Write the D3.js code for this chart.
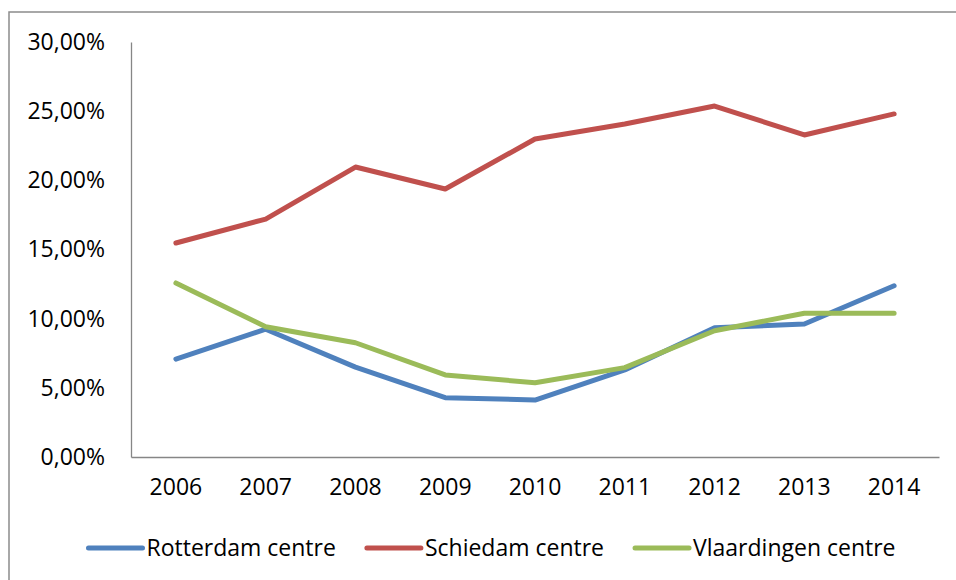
<!DOCTYPE html>
<html>
<head>
<meta charset="utf-8">
<script src="https://cdn.jsdelivr.net/npm/d3@7"></script>
<style>
  body { margin: 0; background: #fff; }
  svg { display: block; font-family: "Open Sans", "Noto Sans", sans-serif; }
</style>
</head>
<body>
<svg id="chart" width="956" height="580"></svg>
<script>
'use strict';
/*
 *	Data
 */
var years = ["2006", "2007", "2008", "2009", "2010", "2011", "2012", "2013", "2014"];
var seriesNames = ["Rotterdam centre", "Schiedam centre", "Vlaardingen centre"];
var seriesColors = ["#4F81BD", "#C0504D", "#9BBB59"];
var rotterdam = [7.08, 9.24, 6.5, 4.29, 4.12, 6.29, 9.35, 9.61, 12.38];
var schiedam = [15.47, 17.2, 20.96, 19.37, 22.99, 24.07, 25.37, 23.28, 24.8];
var vlaardingen = [12.58, 9.42, 8.26, 5.93, 5.37, 6.46, 9.13, 10.39, 10.39];
var yTicks = [0, 5, 10, 15, 20, 25, 30];

var allSeries = [rotterdam, schiedam, vlaardingen];

/*
 *	Layout
 */
var svg = d3.select("#chart");
var plotLeft = 131, plotRight = 939, plotTop = 42, plotBottom = 457;
var fontSize = 23;

// outer chart border (runs off the right/bottom of the picture)
svg.append("rect")
	.attr("x", 9).attr("y", 12)
	.attr("width", 1000).attr("height", 1000)
	.attr("fill", "none")
	.attr("stroke", "#8c8c8c")
	.attr("stroke-width", 1.5);

var x = d3.scaleBand().domain(years).range([plotLeft, plotRight]);
var y = d3.scaleLinear().domain([0, 30]).range([plotBottom, plotTop]);

function fmt(v) {
	return v.toFixed(2).replace(".", ",") + "%";
}

// y axis
var yAxis = svg.append("g")
	.attr("transform", "translate(" + plotLeft + ",0)")
	.call(d3.axisLeft(y).tickValues(yTicks).tickFormat(fmt).tickSize(0).tickPadding(26));
yAxis.attr("font-family", null).attr("font-size", fontSize);
yAxis.select(".domain").attr("stroke", "#868686").attr("stroke-width", 1.3);
yAxis.selectAll("text").attr("fill", "#000");

// x axis
var xAxis = svg.append("g")
	.attr("transform", "translate(0," + plotBottom + ")")
	.call(d3.axisBottom(x).tickSize(0).tickPadding(22));
xAxis.attr("font-family", null).attr("font-size", fontSize);
xAxis.select(".domain").attr("stroke", "#868686").attr("stroke-width", 1.3);
xAxis.selectAll("text").attr("fill", "#000");

// lines
var line = d3.line()
	.x(function(d, i){ return x(years[i]) + x.bandwidth() / 2; })
	.y(function(d){ return y(d); });

allSeries.forEach(function(s, k){
	svg.append("path")
		.datum(s)
		.attr("d", line)
		.attr("fill", "none")
		.attr("stroke", seriesColors[k])
		.attr("stroke-width", 5)
		.attr("stroke-linecap", "round")
		.attr("stroke-linejoin", "round");
});

// legend
var legY = 548, lineLen = 54, gap = 4, spacing = 31;
var leg = svg.append("g");
var items = seriesNames.map(function(name, k){
	var g = leg.append("g");
	g.append("line")
		.attr("x1", 0).attr("x2", lineLen)
		.attr("y1", 0).attr("y2", 0)
		.attr("stroke", seriesColors[k])
		.attr("stroke-width", 5)
		.attr("stroke-linecap", "round");
	var t = g.append("text")
		.attr("x", lineLen + gap)
		.attr("dy", "0.35em")
		.attr("font-size", fontSize)
		.text(name);
	return { g: g, w: lineLen + gap + t.node().getComputedTextLength() };
});
var total = d3.sum(items, function(d){ return d.w; }) + spacing * (items.length - 1);
var cx = 492 - total / 2;
items.forEach(function(it){
	it.g.attr("transform", "translate(" + cx + "," + legY + ")");
	cx += it.w + spacing;
});
</script>
</body>
</html>
